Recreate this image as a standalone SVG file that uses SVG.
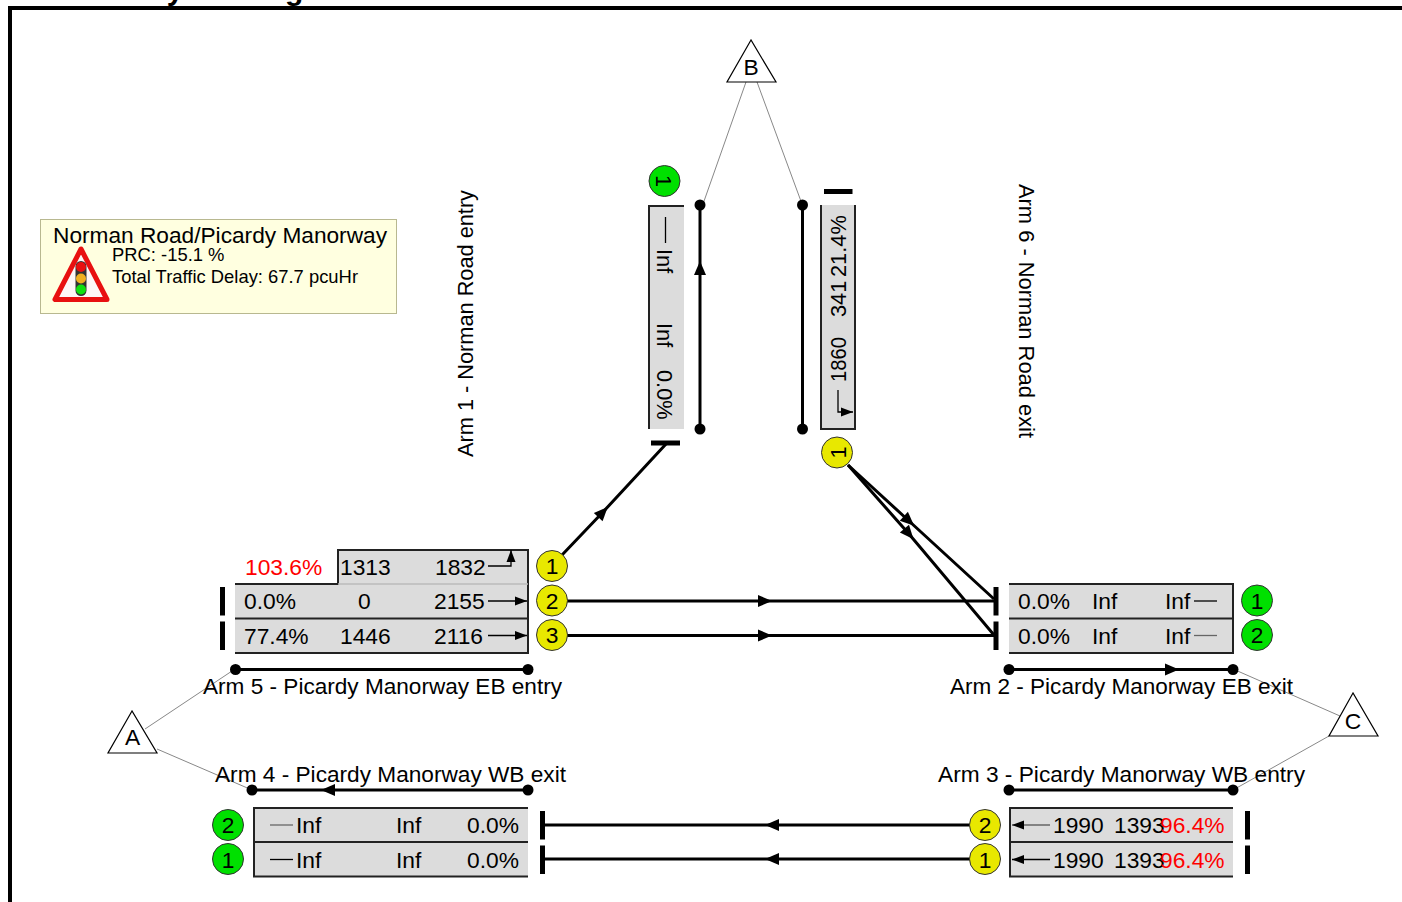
<svg xmlns="http://www.w3.org/2000/svg" width="1402" height="902" viewBox="0 0 1402 902">
<style>
text{font-family:"Liberation Sans",Arial,sans-serif;font-size:22.800px;fill:#000}
.red{fill:#f00}
.title{font-weight:bold;font-size:30px}
.small{font-size:18.400px}
.rot{font-size:21.800px}
.tri{fill:#fff;stroke:#000;stroke-width:1.2}
.thin{fill:none;stroke:#888;stroke-width:1}
.road{fill:none;stroke:#000;stroke-width:3}
.flow{fill:none;stroke:#000;stroke-width:3;marker-mid:url(#mid)}
.tick{fill:none;stroke:#000;stroke-width:1.3}
.tickg{fill:none;stroke:#666;stroke-width:1.3}
.head{marker-end:url(#small)}
.dot{fill:#000}
.bar{fill:#000}
.tbl{fill:#dcdcdc;stroke:none}
.edge{fill:none;stroke:#222;stroke-width:2}
.y{fill:#e8e800;stroke:#333;stroke-width:1}
.g{fill:#00e000;stroke:#333;stroke-width:1}
</style>
<defs>
<marker id="mid" markerUnits="userSpaceOnUse" markerWidth="16" markerHeight="14" refX="8" refY="7" orient="auto"><path d="M1 1L15 7L1 13Z" fill="#000"/></marker>
<marker id="small" markerUnits="userSpaceOnUse" markerWidth="12" markerHeight="10" refX="12" refY="5" orient="auto"><path d="M0 0.500L12 5L0 9.500Z" fill="#000"/></marker>
</defs>
<rect width="1402" height="902" fill="#fff"/>
<text class="title" x="5" y="0">Network Layout Diagram</text>
<path d="M10 902V8H1402" fill="none" stroke="#000" stroke-width="4"/>

<g id="legend">
<rect x="40.500" y="219.500" width="356" height="94" fill="#ffffe0" stroke="#b8b890" stroke-width="1"/>
<text x="53" y="243" textLength="334" lengthAdjust="spacingAndGlyphs">Norman Road/Picardy Manorway</text>
<text class="small" x="112" y="261">PRC: -15.1 %</text>
<text class="small" x="112" y="283">Total Traffic Delay: 67.7 pcuHr</text>
<path d="M81 249L55 299.500H107Z" fill="#fdf6f6" stroke="#e81010" stroke-width="5" stroke-linejoin="round"/>
<rect x="75.500" y="261" width="11" height="35" rx="5.500" fill="#333"/>
<circle cx="81" cy="267" r="5" fill="#e81010"/>
<circle cx="81" cy="278.500" r="5" fill="#f0b020"/>
<circle cx="81" cy="289.500" r="5" fill="#10e010"/>
</g>

<g id="connectors">
<path class="thin" d="M746 82L703 204M757 82L802 204M145 729L235 669M157 749L252 790M1233 669L1340 716M1233 790L1329 736"/>
<path class="flow" d="M562 555L603 512L666 444"/>
<path class="flow" d="M567 601H765H994"/>
<path class="flow" d="M567 635.500H765H994"/>
<path class="flow" d="M848 465L909 521L994 599"/>
<path class="flow" d="M848 465L909 534L994 635"/>
<path class="flow" d="M970 825H772H541"/>
<path class="flow" d="M970 859H772H541"/>
</g>

<g id="node-A"><path class="tri" d="M132 711L108 753H157Z"/><text x="132.500" y="745" text-anchor="middle">A</text></g>
<g id="node-B"><path class="tri" d="M751 40L727 82H776Z"/><text x="751" y="75" text-anchor="middle">B</text></g>
<g id="node-C"><path class="tri" d="M1353 693L1329 736H1378Z"/><text x="1353" y="729" text-anchor="middle">C</text></g>

<g id="arm-1">
<rect class="tbl" x="648" y="205" width="36" height="224"/>
<path class="edge" d="M649 429V206H684"/>
<path class="tick" d="M665.500 217V243"/>
<text class="rot" transform="translate(656.500,249) rotate(90)">Inf</text>
<text class="rot" transform="translate(656.500,323) rotate(90)">Inf</text>
<text class="rot" transform="translate(656.500,370) rotate(90)">0.0%</text>
<rect class="bar" x="651" y="440.500" width="29" height="5"/>
<circle class="g" cx="664.500" cy="181" r="15.500"/>
<text class="rot" text-anchor="middle" transform="translate(656,181) rotate(90)">1</text>
<path class="flow" d="M700 429V268V205"/>
<circle class="dot" cx="700" cy="205" r="5.500"/><circle class="dot" cx="700" cy="429" r="5.500"/>
<text class="rot" transform="translate(473,457) rotate(-90)" textLength="267" lengthAdjust="spacingAndGlyphs">Arm 1 - Norman Road entry</text>
</g>

<g id="arm-6">
<rect class="tbl" x="820" y="205" width="36" height="224"/>
<path class="edge" d="M855 205V429H821V205"/>
<path class="tick head" d="M838 390V412H853"/>
<text class="rot" transform="translate(846,382) rotate(-90)" textLength="45" lengthAdjust="spacingAndGlyphs">1860</text>
<text class="rot" transform="translate(846,317) rotate(-90)">341</text>
<text class="rot" transform="translate(846,277) rotate(-90)">21.4%</text>
<rect class="bar" x="824" y="189" width="28.500" height="5"/>
<circle class="y" cx="837" cy="452.500" r="15.500"/>
<text class="rot" text-anchor="middle" transform="translate(845.500,452.500) rotate(-90)">1</text>
<path class="road" d="M802.500 205V429"/>
<circle class="dot" cx="802.500" cy="205" r="5.500"/><circle class="dot" cx="802.500" cy="429" r="5.500"/>
<text class="rot" transform="translate(1019,184) rotate(90)" textLength="254" lengthAdjust="spacingAndGlyphs">Arm 6 - Norman Road exit</text>
</g>

<g id="arm-5">
<path class="tbl" d="M338 550H528V653H235V584H338Z"/>
<path class="edge" d="M235 584H338V550H528V653H235"/>
<path d="M338 584H528" stroke="#bbb" stroke-width="1.500"/>
<path class="edge" d="M235 618.500H528"/>
<text class="red" x="245" y="575">103.6%</text><text x="340" y="575">1313</text><text x="435" y="575">1832</text>
<text x="244" y="609">0.0%</text><text x="358" y="609">0</text><text x="434" y="609">2155</text>
<text x="244" y="644">77.4%</text><text x="340" y="644">1446</text><text x="434" y="644">2116</text>
<path class="tick head" d="M488 566H511V550"/>
<path class="tick head" d="M488 601H527"/>
<path class="tick head" d="M488 635.500H527"/>
<rect class="bar" x="220" y="587" width="5" height="28.500"/>
<rect class="bar" x="220" y="621.500" width="5" height="28.500"/>
<circle class="y" cx="552" cy="566" r="15.500"/><text x="552" y="574" text-anchor="middle">1</text>
<circle class="y" cx="552" cy="600.500" r="15.500"/><text x="552" y="609" text-anchor="middle">2</text>
<circle class="y" cx="552" cy="635" r="15.500"/><text x="552" y="643" text-anchor="middle">3</text>
<path class="road" d="M235 669.500H528"/>
<circle class="dot" cx="235.500" cy="669.500" r="5.500"/><circle class="dot" cx="528" cy="669.500" r="5.500"/>
<text x="203" y="694" textLength="359" lengthAdjust="spacingAndGlyphs">Arm 5 - Picardy Manorway EB entry</text>
</g>

<g id="arm-2">
<rect class="tbl" x="1009" y="584" width="224" height="69"/>
<path class="edge" d="M1009 584H1233V653H1009M1009 618.500H1233"/>
<text x="1018" y="609">0.0%</text><text x="1092" y="609">Inf</text><text x="1165" y="609">Inf</text>
<text x="1018" y="644">0.0%</text><text x="1092" y="644">Inf</text><text x="1165" y="644">Inf</text>
<path class="tick" d="M1194 601H1217"/>
<path class="tickg" d="M1194 635.500H1217"/>
<rect class="bar" x="993.500" y="587" width="5" height="28.500"/>
<rect class="bar" x="993.500" y="621.500" width="5" height="28.500"/>
<circle class="g" cx="1257" cy="600.500" r="15.500"/><text x="1257" y="609" text-anchor="middle">1</text>
<circle class="g" cx="1257" cy="635" r="15.500"/><text x="1257" y="643" text-anchor="middle">2</text>
<path class="flow" d="M1009 669.500H1172H1233"/>
<circle class="dot" cx="1009" cy="669.500" r="5.500"/><circle class="dot" cx="1233" cy="669.500" r="5.500"/>
<text x="950" y="694" textLength="343" lengthAdjust="spacingAndGlyphs">Arm 2 - Picardy Manorway EB exit</text>
</g>

<g id="arm-4">
<rect class="tbl" x="253" y="808" width="275" height="69"/>
<path class="edge" d="M528 808H254V876.500H528M254 842H528"/>
<text x="296" y="833">Inf</text><text x="396" y="833">Inf</text><text x="467" y="833">0.0%</text>
<text x="296" y="868">Inf</text><text x="396" y="868">Inf</text><text x="467" y="868">0.0%</text>
<path class="tickg" d="M270 825H293"/>
<path class="tick" d="M270 859.500H293"/>
<rect class="bar" x="540" y="811" width="5" height="28.500"/>
<rect class="bar" x="540" y="845.500" width="5" height="28.500"/>
<circle class="g" cx="228" cy="825" r="15.500"/><text x="228" y="833" text-anchor="middle">2</text>
<circle class="g" cx="228" cy="859" r="15.500"/><text x="228" y="868" text-anchor="middle">1</text>
<path class="flow" d="M528 790H328H252"/>
<circle class="dot" cx="252" cy="790" r="5.500"/><circle class="dot" cx="528" cy="790" r="5.500"/>
<text x="215" y="782" textLength="351" lengthAdjust="spacingAndGlyphs">Arm 4 - Picardy Manorway WB exit</text>
</g>

<g id="arm-3">
<rect class="tbl" x="1009" y="808" width="224" height="69"/>
<path class="edge" d="M1233 808H1010V876.500H1233M1010 842H1233"/>
<text x="1053" y="833">1990</text><text x="1114" y="833">1393</text><text class="red" x="1160" y="833">96.4%</text>
<text x="1053" y="868">1990</text><text x="1114" y="868">1393</text><text class="red" x="1160" y="868">96.4%</text>
<path class="tickg head" d="M1050 825H1012"/>
<path class="tick head" d="M1050 859.500H1012"/>
<rect class="bar" x="1245" y="811" width="5" height="28.500"/>
<rect class="bar" x="1245" y="845.500" width="5" height="28.500"/>
<circle class="y" cx="985" cy="825" r="15.500"/><text x="985" y="833" text-anchor="middle">2</text>
<circle class="y" cx="985" cy="859" r="15.500"/><text x="985" y="868" text-anchor="middle">1</text>
<path class="road" d="M1009 790H1233"/>
<circle class="dot" cx="1009" cy="790" r="5.500"/><circle class="dot" cx="1233" cy="790" r="5.500"/>
<text x="938" y="782" textLength="367" lengthAdjust="spacingAndGlyphs">Arm 3 - Picardy Manorway WB entry</text>
</g>
</svg>
